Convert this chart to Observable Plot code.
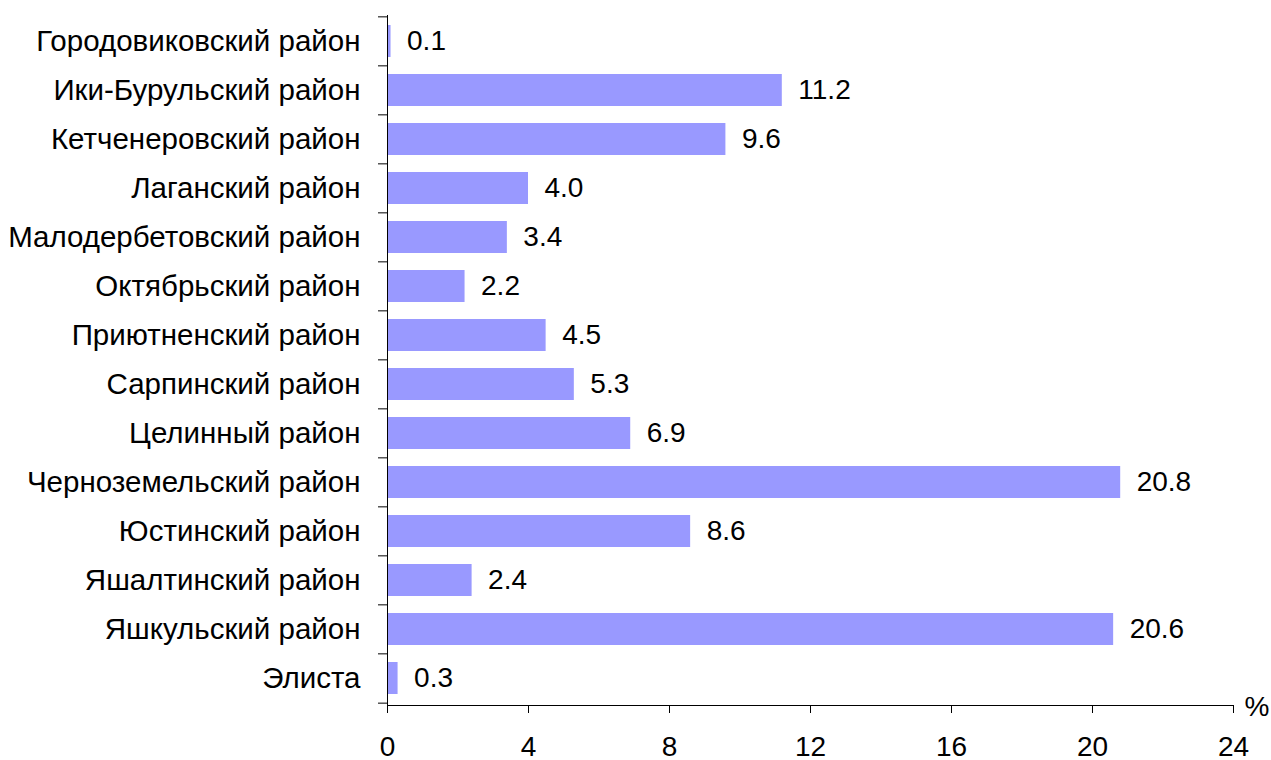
<!DOCTYPE html>
<html><head><meta charset="utf-8">
<script src="https://cdn.jsdelivr.net/npm/d3@7"></script>
<script src="https://cdn.jsdelivr.net/npm/@observablehq/plot@0.6"></script>
<style>body{margin:0;background:#fff;} svg{font-family:"Liberation Sans",Arial,sans-serif;}</style>
</head><body><div id="chart"></div>
<script>
const districts = ["Городовиковский район","Ики-Бурульский район","Кетченеровский район","Лаганский район","Малодербетовский район","Октябрьский район","Приютненский район","Сарпинский район","Целинный район","Черноземельский район","Юстинский район","Яшалтинский район","Яшкульский район","Элиста"];
const shares = [0.1, 11.2, 9.6, 4.0, 3.4, 2.2, 4.5, 5.3, 6.9, 20.8, 8.6, 2.4, 20.6, 0.3];
const xTicks = [0, 4, 8, 12, 16, 20, 24];
const data = districts.map((d, i) => ({district: d, value: shares[i]}));

const W = 1271, H = 760, mT = 15, mB = 55;
const step = (H - mT - mB) / districts.length;
const FS = 28;

const chart = Plot.plot({
  width: W, height: H,
  marginLeft: 387, marginRight: 38, marginTop: mT, marginBottom: mB,
  style: {fontSize: FS + "px", fontFamily: "'Liberation Sans', Arial, sans-serif", color: "#000", background: "#fff", overflow: "visible"},
  x: {domain: [0, 24], ticks: xTicks, label: null},
  y: {domain: districts, paddingInner: 0.34, paddingOuter: 0.17, label: null},
  marks: [
    Plot.barX(data, {x: "value", y: "district", fill: "#9999ff"}),
    Plot.text(data, {x: "value", y: "district", text: d => d.value.toFixed(1), textAnchor: "start", dx: 16, fontSize: FS, fill: "#000"}),
    Plot.ruleY(districts, {y: d => d, x1: -9 / 35.25, x2: 0, dy: -step / 2, stroke: "#000"}),
    Plot.ruleY([districts[districts.length - 1]], {y: d => d, x1: -9 / 35.25, x2: 0, dy: step / 2, stroke: "#000"}),
    Plot.frame({anchor: "left", stroke: "#000"}),
    Plot.frame({anchor: "bottom", stroke: "#000"}),
    Plot.axisX({ticks: xTicks, tickSize: 8, tickPadding: 23, fontSize: FS, stroke: "#000", label: null}),
    Plot.axisY({tickSize: 0, tickPadding: 27, fontSize: 29.5, label: null}),
    Plot.text(["%"], {frameAnchor: "bottom-right", text: d => d, textAnchor: "start", dx: 11, dy: 10, fontSize: FS, fill: "#000"})
  ]
});
document.getElementById("chart").appendChild(chart);
</script></body></html>
